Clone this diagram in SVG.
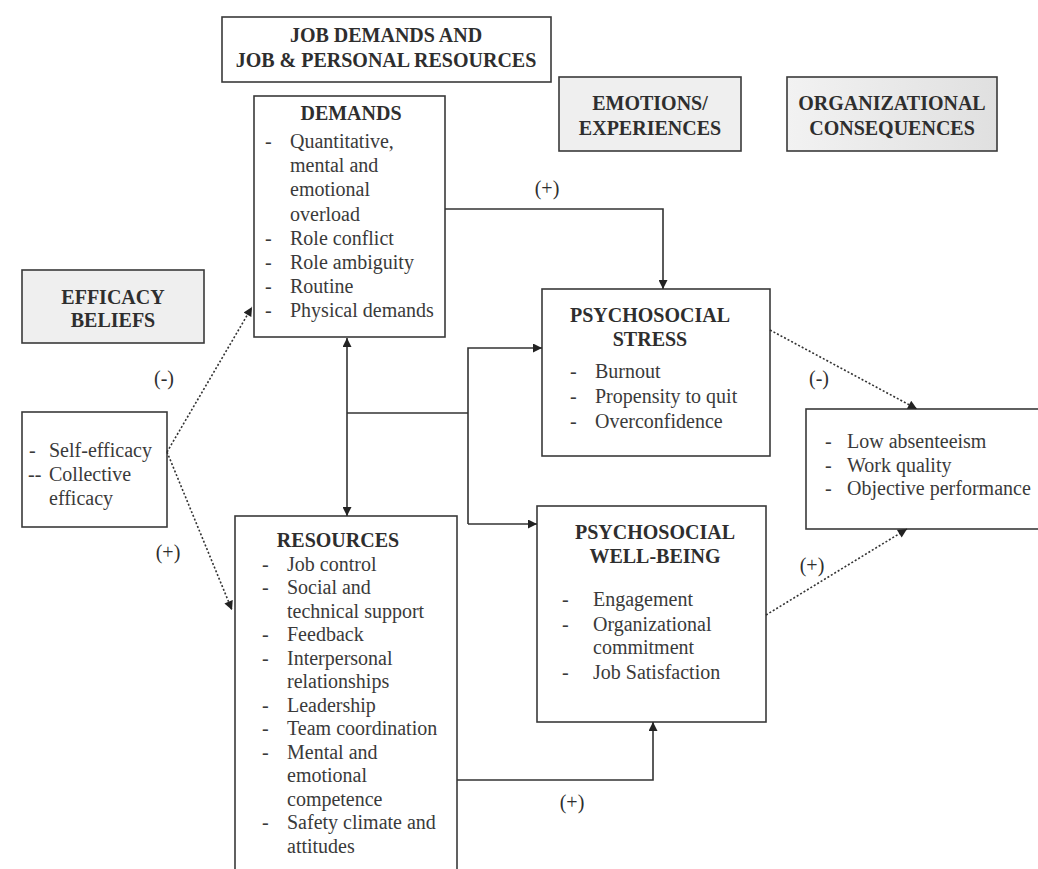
<svg xmlns="http://www.w3.org/2000/svg" width="1038" height="869" viewBox="0 0 1038 869">
<style>
.box{fill:#fff;stroke:#3a3a3a;stroke-width:1.6}
.hdr{fill:#efefef;stroke:#3a3a3a;stroke-width:1.6}
.t{font-family:"Liberation Serif","Times New Roman",serif;font-size:20px;fill:#2e2e2e}
.b{font-weight:bold;text-anchor:middle}
.i{fill:#3a3a3a}
.c{text-anchor:middle}
.ln{fill:none;stroke:#333;stroke-width:1.6}
.dt{fill:none;stroke:#333;stroke-width:1.6;stroke-dasharray:2 2}
</style>
<defs>
<linearGradient id="gOrg" x1="0" x2="1" y1="0" y2="0"><stop offset="0" stop-color="#f2f2f2"/><stop offset="1" stop-color="#e0e0e0"/></linearGradient>
<marker id="ah" viewBox="0 0 10 10" refX="10" refY="5" markerWidth="10" markerHeight="9" markerUnits="userSpaceOnUse" orient="auto-start-reverse"><path d="M0,0 L10,5 L0,10 z" fill="#222"/></marker>
</defs>

<g id="header-jobdemands">
<rect class="box" x="222" y="17" width="329" height="65"/>
<text class="t b" x="386" y="42">JOB DEMANDS AND</text>
<text class="t b" x="386" y="67">JOB &amp; PERSONAL RESOURCES</text>
</g>

<g id="header-emotions">
<rect class="hdr" x="559" y="77" width="182" height="74"/>
<text class="t b" x="650" y="110">EMOTIONS/</text>
<text class="t b" x="650" y="135">EXPERIENCES</text>
</g>

<g id="header-org">
<rect x="787" y="77" width="210" height="74" fill="url(#gOrg)" stroke="#3a3a3a" stroke-width="1.6"/>
<text class="t b" x="892" y="110">ORGANIZATIONAL</text>
<text class="t b" x="892" y="135">CONSEQUENCES</text>
</g>

<g id="header-efficacy">
<rect class="hdr" x="22" y="270" width="182" height="73"/>
<text class="t b" x="113" y="304">EFFICACY</text>
<text class="t b" x="113" y="327">BELIEFS</text>
</g>

<g id="demands">
<rect class="box" x="254" y="96" width="191" height="241"/>
<text class="t b" x="351" y="120">DEMANDS</text>
<g class="t i">
<text x="265" y="148">-</text><text x="290" y="148">Quantitative,</text>
<text x="290" y="172">mental and</text>
<text x="290" y="196">emotional</text>
<text x="290" y="221">overload</text>
<text x="265" y="245">-</text><text x="290" y="245">Role conflict</text>
<text x="265" y="269">-</text><text x="290" y="269">Role ambiguity</text>
<text x="265" y="293">-</text><text x="290" y="293">Routine</text>
<text x="265" y="317">-</text><text x="290" y="317">Physical demands</text>
</g>
</g>

<g id="efficacy">
<rect class="box" x="22" y="412" width="145" height="115"/>
<g class="t i">
<text x="29" y="457">-</text><text x="49" y="457">Self-efficacy</text>
<text x="28" y="481">--</text><text x="49" y="481">Collective</text>
<text x="49" y="505">efficacy</text>
</g>
</g>

<g id="resources">
<rect class="box" x="235" y="516" width="222" height="365"/>
<text class="t b" x="338" y="547">RESOURCES</text>
<g class="t i">
<text x="262" y="571">-</text><text x="287" y="571">Job control</text>
<text x="262" y="594">-</text><text x="287" y="594">Social and</text>
<text x="287" y="618">technical support</text>
<text x="262" y="641">-</text><text x="287" y="641">Feedback</text>
<text x="262" y="665">-</text><text x="287" y="665">Interpersonal</text>
<text x="287" y="688">relationships</text>
<text x="262" y="712">-</text><text x="287" y="712">Leadership</text>
<text x="262" y="735">-</text><text x="287" y="735">Team coordination</text>
<text x="262" y="759">-</text><text x="287" y="759">Mental and</text>
<text x="287" y="782">emotional</text>
<text x="287" y="806">competence</text>
<text x="262" y="829">-</text><text x="287" y="829">Safety climate and</text>
<text x="287" y="853">attitudes</text>
</g>
</g>

<g id="stress">
<rect class="box" x="542" y="289" width="228" height="167"/>
<text class="t b" x="650" y="322">PSYCHOSOCIAL</text>
<text class="t b" x="650" y="346">STRESS</text>
<g class="t i">
<text x="570" y="378">-</text><text x="595" y="378">Burnout</text>
<text x="570" y="403">-</text><text x="595" y="403">Propensity to quit</text>
<text x="570" y="428">-</text><text x="595" y="428">Overconfidence</text>
</g>
</g>

<g id="wellbeing">
<rect class="box" x="537" y="506" width="229" height="216"/>
<text class="t b" x="655" y="539">PSYCHOSOCIAL</text>
<text class="t b" x="655" y="563">WELL-BEING</text>
<g class="t i">
<text x="562" y="606">-</text><text x="593" y="606">Engagement</text>
<text x="562" y="631">-</text><text x="593" y="631">Organizational</text>
<text x="593" y="654">commitment</text>
<text x="562" y="679">-</text><text x="593" y="679">Job Satisfaction</text>
</g>
</g>

<g id="outcomes">
<rect class="box" x="806" y="409" width="240" height="120"/>
<g class="t i">
<text x="825" y="448">-</text><text x="847" y="448">Low absenteeism</text>
<text x="825" y="472">-</text><text x="847" y="472">Work quality</text>
<text x="825" y="495">-</text><text x="847" y="495">Objective performance</text>
</g>
</g>

<g id="connectors">
<path class="dt" d="M167,452 L252,307" marker-end="url(#ah)"/>
<path class="dt" d="M167,452 L232,610" marker-end="url(#ah)"/>
<path class="ln" d="M347,338 L347,516" marker-start="url(#ah)" marker-end="url(#ah)"/>
<path class="ln" d="M347,413 L468,413"/>
<path class="ln" d="M468,524 L468,348 L542,348" marker-end="url(#ah)"/>
<path class="ln" d="M468,524 L537,524" marker-end="url(#ah)"/>
<path class="ln" d="M445,209 L663,209 L663,289" marker-end="url(#ah)"/>
<path class="ln" d="M457,780 L653,780 L653,722" marker-end="url(#ah)"/>
<path class="dt" d="M770,330 L917,409" marker-end="url(#ah)"/>
<path class="dt" d="M766,615 L907,529" marker-end="url(#ah)"/>
<g class="t c">
<text x="164" y="385">(-)</text>
<text x="168" y="559">(+)</text>
<text x="547" y="195">(+)</text>
<text x="819" y="385">(-)</text>
<text x="812" y="572">(+)</text>
<text x="572" y="809">(+)</text>
</g>
</g>
</svg>
